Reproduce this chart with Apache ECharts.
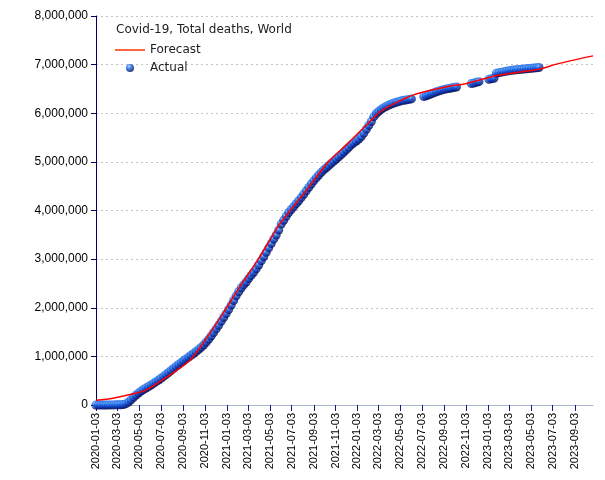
<!DOCTYPE html>
<html>
<head>
<meta charset="utf-8">
<script src="https://cdn.jsdelivr.net/npm/echarts@6/dist/echarts.min.js"></script>
<style>
html, body { margin: 0; padding: 0; background: #fff; }
#chart { width: 605px; height: 480px; }
</style>
</head>
<body>
<div id="chart"></div>
<script>
// day-by-day category axis, labelled on the 3rd of every odd month
const axisStart = '2020-01-03';
const axisEnd = '2023-10-24';

// actual total deaths in thousands, one value per week from actualStart (null = no data that week)
const actualStart = '2020-01-03';
const actualDeaths = [
  // 2020
  0, 0, 0, 0.03, 0.2,
  0.6, 1.4, 2.2, 2.9,
  3.5, 5.4, 11, 27,
  60, 105, 160, 205,
  245, 285, 318, 350, 380,
  412, 445, 480, 515,
  550, 588, 628, 668, 710,
  752, 793, 833, 872,
  910, 948, 985, 1022,
  1060, 1100, 1140, 1185, 1235,
  1290, 1350, 1420, 1490,
  1565, 1640, 1720, 1800,
  // 2021
  1880, 1965, 2055, 2150, 2245,
  2330, 2405, 2470, 2530,
  2600, 2665, 2730, 2800,
  2880, 2965, 3050, 3140, 3230,
  3320, 3410, 3495, 3600,
  3720, 3800, 3880, 3960,
  4020, 4080, 4140, 4200, 4265,
  4335, 4405, 4475, 4545,
  4610, 4670, 4730, 4785,
  4835, 4880, 4925, 4970, 5015,
  5060, 5105, 5150, 5200,
  5250, 5300, 5350, 5390, 5430,
  // 2022
  5470, 5520, 5590, 5670,
  5750, 5830, 5930, 5995,
  6040, 6080, 6115, 6145,
  6170, 6190, 6210, 6225, 6240,
  6255, 6265, 6275, 6285,
  6295, null, null, null,
  null, 6345, 6360, 6380, 6400,
  6420, 6440, 6460, 6475,
  6490, 6500, 6510, 6520, 6530,
  6540, null, null, null,
  null, null, 6610, 6620,
  6635, 6650, null, null, null,
  // 2023
  6700, 6710, 6720, 6825,
  6835, 6845, 6855, 6865,
  6875, 6885, 6890, 6895, 6900,
  6905, 6910, 6915, 6920,
  6925, 6930, 6935, 6940
];

// forecast curve (thousands)
const forecastDates = [
  '2020-01-03', '2020-02-20', '2020-04-07', '2020-05-20', '2020-07-03', '2020-07-28',
  '2020-09-23', '2020-11-11', '2020-12-23', '2021-02-07', '2021-04-01', '2021-05-27',
  '2021-06-25', '2021-08-19', '2021-10-14', '2021-12-09', '2022-02-03', '2022-03-11',
  '2022-05-03', '2022-06-19', '2022-09-20', '2022-10-29', '2023-01-25', '2023-05-29',
  '2023-07-14', '2023-10-24'
];
const forecastDeaths = [
  100, 140, 215, 300, 500, 620,
  930, 1420, 1880, 2420, 3000, 3680,
  3960, 4470, 5000, 5390, 5800, 6050,
  6260, 6400, 6560, 6600, 6770, 6910,
  7010, 7180
];

function addDays(s, n) {
  const d = new Date(s + 'T00:00:00Z');
  d.setUTCDate(d.getUTCDate() + n);
  return d.toISOString().slice(0, 10);
}

const days = [];
for (let d = axisStart; d <= axisEnd; d = addDays(d, 1)) days.push(d);

const actualData = [];
actualDeaths.forEach((v, i) => {
  if (v != null) actualData.push([addDays(actualStart, i * 7), v * 1000]);
});
const forecastData = forecastDates.map((d, i) => [d, forecastDeaths[i] * 1000]);

const showDay = (idx, val) => val.slice(8) === '03' && (+val.slice(5, 7)) % 2 === 1;

const ball = {
  type: 'radial', x: 0.38, y: 0.3, r: 0.75,
  colorStops: [
    { offset: 0, color: '#a8dcff' },
    { offset: 0.3, color: '#2a78f0' },
    { offset: 0.7, color: '#0a2ca6' },
    { offset: 1, color: '#00002e' }
  ]
};

const font = { fontFamily: 'DejaVu Sans', fontSize: 12, color: '#222' };

const chart = echarts.init(document.getElementById('chart'));
chart.setOption({
  animation: false,
  backgroundColor: '#fff',
  title: {
    text: 'Covid-19, Total deaths, World',
    left: 116, top: 24, padding: 0,
    textStyle: Object.assign({ fontWeight: 'normal' }, font)
  },
  legend: [
    {
      data: [{ name: 'Forecast', icon: 'rect' }], left: 115, top: 44, padding: 0,
      itemWidth: 30, itemHeight: 1.5,
      itemStyle: { color: '#ff3300' },
      textStyle: font
    },
    {
      data: [{ name: 'Actual', icon: 'circle' }], left: 126, top: 62, padding: 0,
      itemWidth: 30, itemHeight: 8,
      textStyle: font
    }
  ],
  grid: { left: 96, right: 12, top: 16, bottom: 75 },
  xAxis: {
    type: 'category',
    data: days,
    boundaryGap: false,
    axisLine: { lineStyle: { color: '#aab4cc', width: 1 } },
    axisTick: { interval: showDay, length: 6, lineStyle: { color: '#1a1a6e' } },
    axisLabel: {
      interval: showDay, rotate: 90, margin: 8,
      fontFamily: 'Liberation Sans', fontSize: 11, color: '#000'
    },
    splitLine: { show: false }
  },
  yAxis: {
    type: 'value',
    min: 0, max: 8000000, interval: 1000000,
    axisLine: { show: true, lineStyle: { color: '#00005a', width: 1 } },
    axisTick: { show: true, length: 5, lineStyle: { color: '#00005a' } },
    axisLabel: {
      margin: 8, fontFamily: 'Liberation Sans', fontSize: 12, color: '#000',
      formatter: v => v.toLocaleString('en-US')
    },
    splitLine: { lineStyle: { color: '#c4c4c4', type: [2, 3] } }
  },
  series: [
    {
      name: 'Actual',
      type: 'scatter',
      data: actualData,
      symbol: 'circle',
      symbolSize: 9,
      itemStyle: { color: ball }
    },
    {
      name: 'Forecast',
      type: 'line',
      data: forecastData,
      symbol: 'none',
      smooth: 0.3,
      lineStyle: { color: '#ff0000', width: 1.5 }
    }
  ]
});
</script>
</body>
</html>
